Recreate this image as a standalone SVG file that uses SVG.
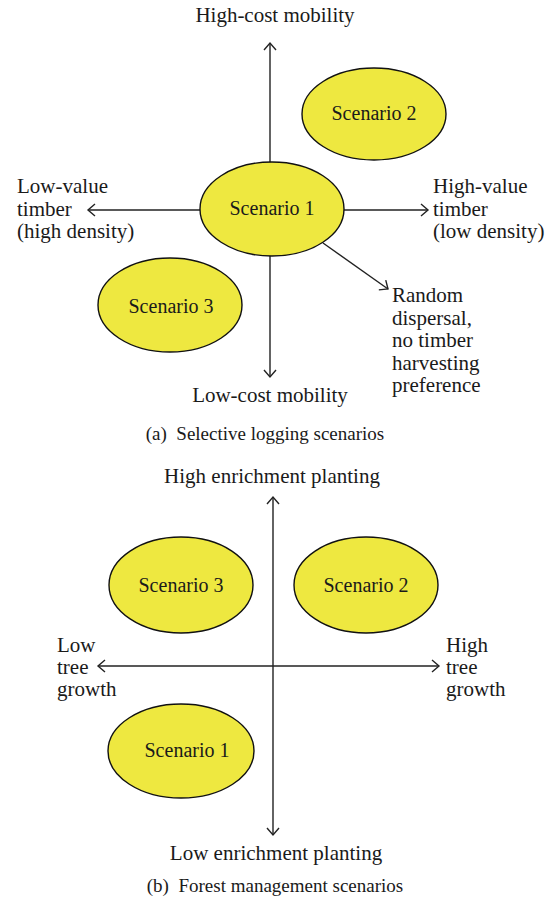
<svg xmlns="http://www.w3.org/2000/svg" width="552" height="904" viewBox="0 0 552 904">
<style>
text{font-family:"Liberation Serif","Times New Roman",serif;fill:#1a1a1a;}
.lbl{font-size:21px;}
.sc{font-size:20px;text-anchor:middle;}
.cap{font-size:19px;text-anchor:middle;white-space:pre;}
.mid{text-anchor:middle;}
.node ellipse{fill:#EEE840;stroke:#111;stroke-width:1.4;}
.ax{stroke:#222;stroke-width:1.4;fill:none;marker-end:url(#ah);}
.ax2{stroke:#222;stroke-width:1.4;fill:none;marker-end:url(#ah);marker-start:url(#ah);}
</style>
<defs>
<marker id="ah" markerUnits="userSpaceOnUse" markerWidth="16" markerHeight="16" viewBox="-10 -8 12 16" refX="0" refY="0" orient="auto-start-reverse">
<path d="M-7,-6 L0,0 L-7,6" fill="none" stroke="#222" stroke-width="1.4"/>
</marker>
</defs>
<rect width="552" height="904" fill="#fff"/>

<g id="connectors">
<line class="ax" x1="270" y1="162" x2="270" y2="43"/>
<line class="ax" x1="270" y1="256" x2="270" y2="377"/>
<line class="ax" x1="200" y1="210" x2="88" y2="210"/>
<line class="ax" x1="344" y1="210" x2="428" y2="210"/>
<line class="ax" x1="323" y1="243" x2="388" y2="289"/>
<line class="ax2" x1="273" y1="835" x2="273" y2="497"/>
<line class="ax2" x1="98" y1="666" x2="439" y2="666"/>
</g>

<g id="a-scenario1" class="node"><ellipse cx="272" cy="209" rx="72" ry="47"/><text class="sc" x="272" y="215">Scenario 1</text></g>
<g id="a-scenario2" class="node"><ellipse cx="374" cy="114" rx="72" ry="46"/><text class="sc" x="374" y="120">Scenario 2</text></g>
<g id="a-scenario3" class="node"><ellipse cx="170" cy="305" rx="72" ry="47"/><text class="sc" x="171" y="313">Scenario 3</text></g>

<g id="a-labels">
<text class="lbl mid" x="275" y="22">High-cost mobility</text>
<text class="lbl mid" x="270" y="402">Low-cost mobility</text>
<text class="lbl" x="17" y="193">Low-value</text>
<text class="lbl" x="17" y="216">timber</text>
<text class="lbl" x="17" y="238">(high density)</text>
<text class="lbl" x="433" y="193">High-value</text>
<text class="lbl" x="433" y="216">timber</text>
<text class="lbl" x="433" y="238">(low density)</text>
<text class="lbl" x="392" y="302">Random</text>
<text class="lbl" x="392" y="324.5">dispersal,</text>
<text class="lbl" x="392" y="347">no timber</text>
<text class="lbl" x="392" y="369.5">harvesting</text>
<text class="lbl" x="392" y="392">preference</text>
<text class="cap" x="265" y="440">(a)  Selective logging scenarios</text>
</g>

<g id="b-scenario3" class="node"><ellipse cx="181" cy="585" rx="72" ry="48"/><text class="sc" x="181" y="592">Scenario 3</text></g>
<g id="b-scenario2" class="node"><ellipse cx="366" cy="585" rx="72" ry="48"/><text class="sc" x="366" y="592">Scenario 2</text></g>
<g id="b-scenario1" class="node"><ellipse cx="181" cy="751" rx="73" ry="47"/><text class="sc" x="187" y="757">Scenario 1</text></g>

<g id="b-labels">
<text class="lbl mid" x="272" y="483">High enrichment planting</text>
<text class="lbl mid" x="276" y="860">Low enrichment planting</text>
<text class="lbl" x="57" y="652">Low</text>
<text class="lbl" x="57" y="674">tree</text>
<text class="lbl" x="57" y="696">growth</text>
<text class="lbl" x="446" y="652">High</text>
<text class="lbl" x="446" y="674">tree</text>
<text class="lbl" x="446" y="696">growth</text>
<text class="cap" x="275" y="892">(b)  Forest management scenarios</text>
</g>
</svg>
